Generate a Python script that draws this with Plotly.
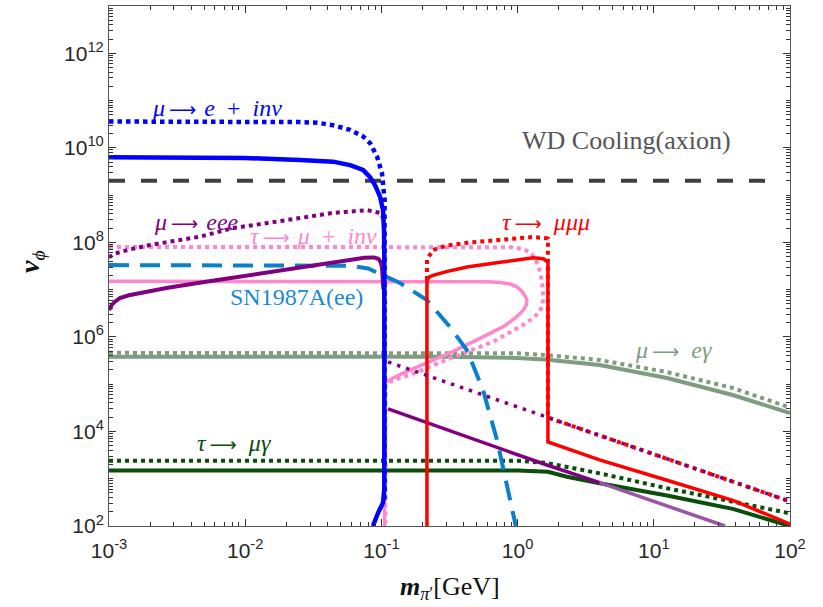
import plotly.graph_objects as go

# ---------------- data ----------------
# mu -> e + inv
mei_solid_x = [0.001, 0.01, 0.0252, 0.0442, 0.0589, 0.0733, 0.0825, 0.0897, 0.0977, 0.1028, 0.1045, 0.105, 0.1052, 0.1052, 0.105, 0.1028, 0.0944, 0.0867]
mei_solid_y = [6.3e9, 6.1e9, 5.5e9, 5.1e9, 4.3e9, 3.4e9, 2.4e9, 1.63e9, 9.3e8, 4.8e8, 1.8e8, 6.9e7, 1e6, 1e3, 6e2, 3.1e2, 1.88e2, 1e2]
mei_dot_x = [0.001, 0.01, 0.0252, 0.0337, 0.0442, 0.0589, 0.0733, 0.0825, 0.0929, 0.1010, 0.1028, 0.1055, 0.1055]
mei_dot_y = [3.6e10, 3.6e10, 3.5e10, 3.4e10, 3.0e10, 2.4e10, 1.75e10, 1.26e10, 6.5e9, 2.9e9, 1.3e9, 8e8, 3e2]

# WD cooling (axion)
wd_x = [0.001, 70]
wd_y = [2.0e9, 2.0e9]

# mu -> eee
meee_solid1_x = [0.001, 0.00105, 0.0011, 0.0012, 0.0014, 0.0017, 0.0027, 0.005, 0.0081, 0.015, 0.025, 0.042, 0.059, 0.075, 0.088, 0.095, 0.099, 0.101, 0.1035]
meee_solid1_y = [3.7e6, 4.8e6, 5.5e6, 6.6e6, 7.6e6, 8.6e6, 1.1e7, 1.45e7, 1.8e7, 2.3e7, 3.0e7, 3.8e7, 4.3e7, 4.7e7, 4.8e7, 4.5e7, 3.8e7, 2.9e7, 1e7]
meee_solid2_x = [0.112, 0.22, 0.7, 1.64, 4.0]
meee_solid2_y = [3.0e4, 1.5e4, 4.5e3, 1.95e3, 8.3e2]
meee_solid3_x = [4.0, 10, 33.3]
meee_solid3_y = [8.3e2, 3.3e2, 1.0e2]
meee_dot1_x = [0.001, 0.0011, 0.0014, 0.002, 0.00466, 0.0081, 0.0145, 0.0252, 0.0442, 0.0783, 0.0977, 0.103, 0.106]
meee_dot1_y = [4.8e7, 5.8e7, 7.0e7, 8.8e7, 1.32e8, 2.0e8, 2.56e8, 3.3e8, 4.2e8, 4.8e8, 4.2e8, 3.3e8, 2.6e8]
meee_dot2_x = [0.112, 0.5, 1.67, 10, 100]
meee_dot2_y = [2.95e5, 6.6e4, 1.97e4, 3.3e3, 3.3e2]

# tau -> mu + inv
tmi_solid_x = [0.001, 0.4, 0.6, 0.75, 0.88, 0.98, 1.07, 1.12, 1.16, 1.17, 1.15, 1.10, 1.03, 0.94, 0.8, 0.557, 0.319, 0.182, 0.137, 0.11, 0.1055, 0.1055]
tmi_solid_y = [1.5e7, 1.5e7, 1.47e7, 1.42e7, 1.32e7, 1.16e7, 9.4e6, 7.8e6, 6.5e6, 5.6e6, 4.6e6, 3.7e6, 3.0e6, 2.4e6, 1.7e6, 1.0e6, 4.6e5, 2.3e5, 1.6e5, 1.15e5, 1.07e5, 1e2]
tmi_dot_x = [0.001, 0.5, 0.92, 1.1, 1.25, 1.35, 1.43, 1.49, 1.53, 1.54, 1.52, 1.45, 1.30, 1.10, 0.66, 0.319, 0.182, 0.112, 0.107, 0.107]
tmi_dot_y = [8e7, 8e7, 7.9e7, 7.2e7, 6.0e7, 4.5e7, 3.0e7, 1.8e7, 1.1e7, 7.0e6, 4.5e6, 3.4e6, 2.5e6, 1.8e6, 7.9e5, 3.5e5, 1.8e5, 1.1e5, 1.0e5, 1e2]

# tau -> mu mu mu
tmmm_solid_x = [0.216, 0.216, 0.225, 0.239, 0.3, 0.425, 0.743, 1.30, 1.55, 1.67, 1.67, 4.0, 12.5, 38, 100]
tmmm_solid_y = [1e2, 1.58e7, 1.85e7, 2.0e7, 2.4e7, 3.0e7, 3.8e7, 4.7e7, 4.5e7, 3.8e7, 6.0e3, 2.5e3, 9.3e2, 3.5e2, 1.1e2]
tmmm_dot_x = [0.216, 0.216, 0.239, 0.3, 0.425, 0.743, 1.30, 1.64, 1.67, 1.67, 100]
tmmm_dot_y = [1.6e7, 4.3e7, 6.9e7, 8.5e7, 9.8e7, 1.12e8, 1.3e8, 1.22e8, 1.2e8, 1.97e4, 3.3e2]

# SN1987A(ee)
sn_x = [0.001, 0.044, 0.06, 0.08, 0.1, 0.137, 0.216, 0.319, 0.425, 0.557, 0.706, 0.925, 0.97]
sn_y = [3.3e7, 3.3e7, 3.2e7, 2.8e7, 2.1e7, 1.38e7, 6.0e6, 1.62e6, 5.2e5, 7.6e4, 6.6e3, 2.2e2, 1e2]

# mu -> e gamma
meg_solid_x = [0.001, 0.3, 1.0, 1.67, 4.0, 12.5, 38, 100]
meg_solid_y = [3.8e5, 3.8e5, 3.6e5, 3.3e5, 2.55e5, 1.35e5, 5.9e4, 2.45e4]
meg_dot_x = [0.001, 1.0, 1.67, 4.0, 12.5, 38, 100]
meg_dot_y = [4.6e5, 4.5e5, 4.1e5, 3.25e5, 1.8e5, 8.3e4, 3.2e4]

# tau -> mu gamma
tmg_solid_x = [0.001, 1.0, 1.67, 2.3, 4.0, 12.5, 38, 100]
tmg_solid_y = [1.5e3, 1.5e3, 1.4e3, 1.1e3, 8.0e2, 4.4e2, 2.3e2, 1.0e2]
tmg_dot_x = [0.001, 1.0, 1.64, 4.0, 12.5, 38, 100]
tmg_dot_y = [2.4e3, 2.4e3, 2.15e3, 1.3e3, 6.3e2, 3.2e2, 1.85e2]

x_tick_vals = [1e-3, 1e-2, 1e-1, 1e0, 1e1, 1e2]
x_tick_text = ["10<sup>-3</sup>", "10<sup>-2</sup>", "10<sup>-1</sup>", "10<sup>0</sup>", "10<sup>1</sup>", "10<sup>2</sup>"]
y_tick_vals = [1e2, 1e4, 1e6, 1e8, 1e10, 1e12]
y_tick_text = ["10<sup>2</sup>", "10<sup>4</sup>", "10<sup>6</sup>", "10<sup>8</sup>", "10<sup>10</sup>", "10<sup>12</sup>"]

# label texts and (log10 x, log10 y) positions
EN = "\u2002"      # en space
TH = "\u2004"      # three-per-em space
SX = "\u2006"      # six-per-em space
ARR = '<span style="font-family:\'DejaVu Sans\';font-size:19px">⟶</span>'
labels = [
    ("<i>μ</i>" + SX + ARR + TH + "<i>e</i>" + EN + "+" + EN + "<i>inv</i>", -2.207, 10.84, "#0000ff", 24),
    ("WD Cooling(axion)", 0.796, 10.145, "#555555", 26),
    ("<i>μ</i>" + SX + ARR + TH + "<i>eee</i>", -2.361, 8.43, "#800080", 24),
    ("<i>τ</i>" + SX + ARR + TH + "<i>μ</i>" + EN + "+" + EN + "<i>inv</i>", -1.502, 8.135, "#ff88cc", 24),
    ("SN1987A(ee)", -1.627, 6.845, "#1a8ad0", 24),
    ("<i>τ</i>" + SX + ARR + EN + "<i>μμμ</i>", 0.209, 8.43, "#ff0000", 24),
    ("<i>μ</i>" + SX + ARR + EN + "<i>eγ</i>", 1.148, 5.72, "#809c80", 24),
    ("<i>τ</i>" + SX + ARR + EN + "<i>μγ</i>", -2.082, 3.756, "#0b4d0b", 24),
]

# ---------------- figure ----------------
BLUE = "#0000ff"
PURPLE = "#800080"
PINK = "#ff88cc"
RED = "#ff0000"
SNC = "#0a80cc"
GG = "#7f9c80"
DG = "#0b4d0b"
WD = "#404040"

fig = go.Figure()

def add(x, y, color, width, dash="solid"):
    fig.add_trace(go.Scatter(x=x, y=y, mode="lines",
                             line=dict(color=color, width=width, dash=dash),
                             showlegend=False, hoverinfo="skip"))

DOT = "4px,4px"
add(meg_solid_x, meg_solid_y, GG, 4)
add(meg_dot_x, meg_dot_y, GG, 4, DOT)
add(tmg_solid_x, tmg_solid_y, DG, 4)
add(tmg_dot_x, tmg_dot_y, DG, 4, DOT)
add(wd_x, wd_y, WD, 4, "16px,16px")
add(tmi_solid_x, tmi_solid_y, PINK, 3.5)
add(tmi_dot_x, tmi_dot_y, PINK, 4, DOT)
add(sn_x, sn_y, SNC, 4, "20px,11px")
add(meee_solid1_x, meee_solid1_y, PURPLE, 4)
add(meee_solid2_x, meee_solid2_y, PURPLE, 3.5)
add(meee_solid3_x, meee_solid3_y, "#9a55a6", 3.5)
add(meee_dot1_x, meee_dot1_y, PURPLE, 4, DOT)
add(tmmm_solid_x, tmmm_solid_y, RED, 3.5)
add(tmmm_dot_x, tmmm_dot_y, RED, 4, DOT)
add(meee_dot2_x, meee_dot2_y, PURPLE, 3.5, "3.5px,6px")
add(mei_dot_x, mei_dot_y, BLUE, 4.5, "4.5px,4px")
add(mei_solid_x, mei_solid_y, BLUE, 4.5)

# minor tick positions
x_minor = [m * 10.0 ** e for e in range(-3, 2) for m in range(2, 10)]
y_minor = [m * 10.0 ** e for e in range(2, 13) for m in range(1, 10) if not (m == 1 and e % 2 == 0)]

tickfont = dict(family="Liberation Sans, Arial, sans-serif", size=21, color="#262626")
axis_common = dict(type="log", showgrid=False, zeroline=False, showline=True,
                   linecolor="#555555", linewidth=1, mirror="allticks",
                   ticks="inside", ticklen=7, tickwidth=1, tickcolor="#333333",
                   tickfont=tickfont, tickmode="array")

fig.update_xaxes(range=[-3, 2], tickvals=x_tick_vals, ticktext=x_tick_text,
                 ticklabelstandoff=6,
                 minor=dict(tickmode="array", tickvals=x_minor, ticks="inside", ticklen=4,
                            tickcolor="#333333", tickwidth=1, showgrid=False),
                 **axis_common)
fig.update_yaxes(range=[2, 13], tickvals=y_tick_vals, ticktext=y_tick_text,
                 minor=dict(tickmode="array", tickvals=y_minor, ticks="inside", ticklen=4,
                            tickcolor="#333333", tickwidth=1, showgrid=False),
                 **axis_common)

serif = "Liberation Serif, Times New Roman, serif"
for text, lx, ly, col, fs in labels:
    fig.add_annotation(x=lx, y=ly, xref="x", yref="y", text=text, showarrow=False,
                       font=dict(family=serif, size=fs, color=col),
                       xanchor="center", yanchor="middle")

# axis titles
fig.add_annotation(x=-0.113, y=0.508, xref="paper", yref="paper",
                   text="<b><i>v</i></b><sub><i>ϕ</i></sub>", showarrow=False, textangle=-90,
                   font=dict(family=serif, size=28, color="#111111"),
                   xanchor="center", yanchor="middle")
fig.add_annotation(x=0.5007, y=-0.119, xref="paper", yref="paper",
                   text="<b><i>m</i></b><sub><i>π</i>′</sub>[GeV]", showarrow=False,
                   font=dict(family=serif, size=26, color="#111111"),
                   xanchor="center", yanchor="middle")

fig.update_layout(width=823, height=607, margin=dict(l=109, r=33, t=6, b=81),
                  plot_bgcolor="white", paper_bgcolor="white", showlegend=False)

fig.write_html("out.html", config={"displayModeBar": False},
               post_script="document.body.style.margin='0px';")
